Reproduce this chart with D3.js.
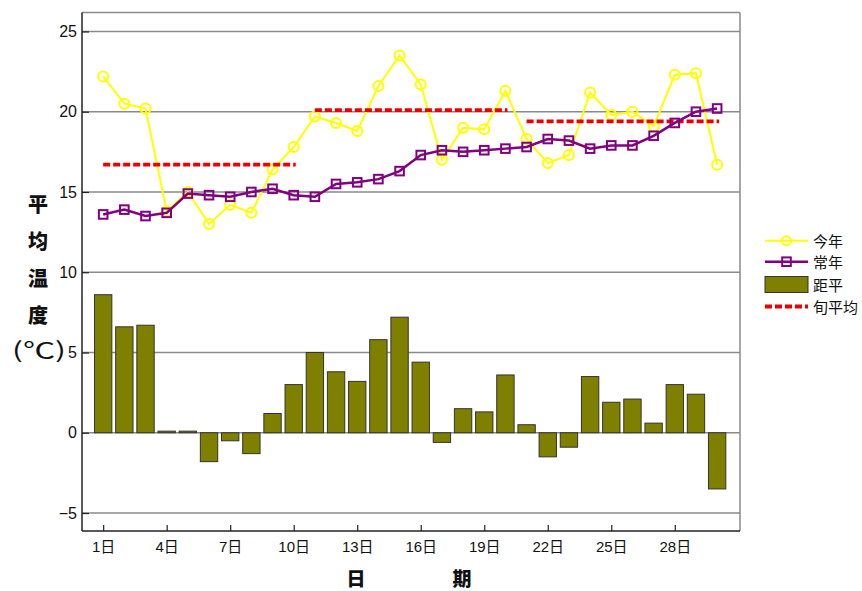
<!DOCTYPE html>
<html><head><meta charset="utf-8">
<script src="https://cdn.jsdelivr.net/npm/d3@7"></script>
<style>
html,body{margin:0;padding:0;background:#fff;overflow:hidden;}
svg{display:block;}
</style>
</head><body>
<svg id="chart" width="862" height="591"></svg>
<script>
// ---- data ----
const days = d3.range(1, 31);
const thisYear = [22.2,20.5,20.2,13.8,15.0,13.0,14.2,13.7,16.4,17.8,
                  19.7,19.3,18.8,21.6,23.5,21.7,17.0,19.0,18.9,21.3,
                  18.3,16.8,17.3,21.2,19.8,20.0,19.1,22.3,22.4,16.7];
const normal   = [13.6,13.9,13.5,13.7,14.9,14.8,14.7,15.0,15.2,14.8,
                  14.7,15.5,15.6,15.8,16.3,17.3,17.6,17.5,17.6,17.7,
                  17.8,18.3,18.2,17.7,17.9,17.9,18.5,19.3,20.0,20.2];
const anomaly  = [8.6,6.6,6.7,0.1,0.1,-1.8,-0.5,-1.3,1.2,3.0,
                  5.0,3.8,3.2,5.8,7.2,4.4,-0.6,1.5,1.3,3.6,
                  0.5,-1.5,-0.9,3.5,1.9,2.1,0.6,3.0,2.4,-3.5];
const dekadStart = [1, 11, 21];
const dekadEnd   = [10, 20, 30];
const dekadMean  = [16.7, 20.1, 19.4];
const yTicks = [-5, 0, 5, 10, 15, 20, 25];
const xTicks = [1, 4, 7, 10, 13, 16, 19, 22, 25, 28];
const seriesNames = ["今年", "常年", "距平", "旬平均"];
const yTitleChars = ["平", "均", "温", "度"];
const xTitleChars = ["日", "期"];

// ---- layout ----
const L = 82, R = 740, T = 12.5, B = 531;
const svg = d3.select("#chart");
const x = d3.scaleLinear().domain([0, 31.08]).range([L, R]);
const y = d3.scaleLinear().domain([-6.12, 26.18]).range([B, T]);
const barW = x(0.82) - x(0);
const numFont = "'Liberation Sans', Arial, 'Noto Sans CJK SC', sans-serif";
const cjkFont = "'Noto Sans CJK SC', sans-serif";

// gridlines
svg.append("g").selectAll("line").data(yTicks).join("line")
  .attr("x1", L).attr("x2", R)
  .attr("y1", d => y(d)).attr("y2", d => y(d))
  .attr("stroke", "#8a8a8a").attr("stroke-width", 1.5);

// frame top/right
svg.append("line").attr("x1", L).attr("x2", R).attr("y1", T).attr("y2", T)
  .attr("stroke", "#8a8a8a").attr("stroke-width", 1.5);
svg.append("line").attr("x1", R).attr("x2", R).attr("y1", T).attr("y2", B)
  .attr("stroke", "#8a8a8a").attr("stroke-width", 1.5);

// bars
svg.append("g").selectAll("rect").data(days).join("rect")
  .attr("x", (d) => x(d) - barW / 2)
  .attr("width", barW)
  .attr("y", (d, i) => y(Math.max(0, anomaly[i])))
  .attr("height", (d, i) => Math.abs(y(anomaly[i]) - y(0)))
  .attr("fill", "#808000").attr("stroke", "#333").attr("stroke-width", 1);

// this year line
const line = d3.line();
svg.append("path")
  .attr("d", line(days.map((d, i) => [x(d), y(thisYear[i])])))
  .attr("fill", "none").attr("stroke", "#ffff00").attr("stroke-width", 2);
svg.append("g").selectAll("circle").data(days).join("circle")
  .attr("cx", d => x(d)).attr("cy", (d, i) => y(thisYear[i])).attr("r", 5)
  .attr("fill", "none").attr("stroke", "#ffff00").attr("stroke-width", 2);

// dekad means
svg.append("g").selectAll("line").data(dekadMean).join("line")
  .attr("x1", (d, i) => x(dekadStart[i])).attr("x2", (d, i) => x(dekadEnd[i]) + 2)
  .attr("y1", d => y(d)).attr("y2", d => y(d))
  .attr("stroke", "#ee0000").attr("stroke-width", 3.8)
  .attr("stroke-dasharray", "7,3");

// normal line
svg.append("path")
  .attr("d", line(days.map((d, i) => [x(d), y(normal[i])])))
  .attr("fill", "none").attr("stroke", "#800080").attr("stroke-width", 2.5);
svg.append("g").selectAll("rect").data(days).join("rect")
  .attr("x", d => x(d) - 4.3).attr("y", (d, i) => y(normal[i]) - 4.3)
  .attr("width", 8.6).attr("height", 8.6)
  .attr("fill", "none").attr("stroke", "#800080").attr("stroke-width", 2);

// axes
const yAxis = svg.append("g").attr("transform", `translate(${L},0)`)
  .call(d3.axisLeft(y).tickValues(yTicks).tickSize(-7).tickPadding(5).tickFormat(d3.format("d")));
yAxis.select(".domain").remove();
yAxis.selectAll(".tick line").attr("stroke", "#222").attr("stroke-width", 1.2);
yAxis.selectAll("text").attr("font-family", numFont).attr("font-size", 16).attr("fill", "#111");
svg.append("line").attr("x1", L).attr("x2", L).attr("y1", T).attr("y2", B)
  .attr("stroke", "#222").attr("stroke-width", 1.5);

const xAxis = svg.append("g").attr("transform", `translate(0,${B})`)
  .call(d3.axisBottom(x).tickValues(xTicks).tickSize(-6).tickPadding(10).tickFormat(d => d + "日"));
xAxis.select(".domain").remove();
xAxis.selectAll(".tick line").attr("stroke", "#222").attr("stroke-width", 1.2);
xAxis.selectAll("text").attr("font-family", numFont).attr("font-size", 15).attr("fill", "#111");
svg.append("line").attr("x1", L).attr("x2", R).attr("y1", B).attr("y2", B)
  .attr("stroke", "#222").attr("stroke-width", 1.5);

// axis titles
svg.append("g").selectAll("text").data(yTitleChars).join("text")
  .attr("x", 38).attr("y", (d, i) => 203 + i * 37.3)
  .attr("text-anchor", "middle").attr("dominant-baseline", "central")
  .attr("font-family", cjkFont).attr("font-weight", 900).attr("font-size", 20)
  .attr("fill", "#111").text(d => d);
svg.append("text").attr("x", 39).attr("y", 348)
  .attr("text-anchor", "middle").attr("dominant-baseline", "central")
  .attr("font-family", cjkFont).attr("font-size", 22).attr("fill", "#111")
  .attr("textLength", 54).attr("lengthAdjust", "spacingAndGlyphs")
  .text("(℃)");
svg.append("g").selectAll("text").data(xTitleChars).join("text")
  .attr("x", (d, i) => [356, 462][i]).attr("y", 577)
  .attr("text-anchor", "middle").attr("dominant-baseline", "central")
  .attr("font-family", cjkFont).attr("font-weight", 900).attr("font-size", 19)
  .attr("fill", "#111").text(d => d);

// legend
const lg = svg.append("g");
const rowY = [240.7, 261.7, 284.5, 306.5];
const lx1 = 765, lx2 = 808, lmid = 786.5;
lg.append("line").attr("x1", lx1).attr("x2", lx2).attr("y1", rowY[0]).attr("y2", rowY[0])
  .attr("stroke", "#ffff00").attr("stroke-width", 2);
lg.append("circle").attr("cx", lmid).attr("cy", rowY[0]).attr("r", 4.5)
  .attr("fill", "none").attr("stroke", "#ffff00").attr("stroke-width", 2);
lg.append("line").attr("x1", lx1).attr("x2", lx2).attr("y1", rowY[1]).attr("y2", rowY[1])
  .attr("stroke", "#800080").attr("stroke-width", 2.5);
lg.append("rect").attr("x", lmid - 4.3).attr("y", rowY[1] - 4.3).attr("width", 8.6).attr("height", 8.6)
  .attr("fill", "none").attr("stroke", "#800080").attr("stroke-width", 2);
lg.append("rect").attr("x", lx1).attr("y", rowY[2] - 8).attr("width", lx2 - lx1).attr("height", 16)
  .attr("fill", "#808000").attr("stroke", "#333").attr("stroke-width", 1);
lg.append("line").attr("x1", lx1).attr("x2", lx2).attr("y1", rowY[3]).attr("y2", rowY[3])
  .attr("stroke", "#ee0000").attr("stroke-width", 3.8).attr("stroke-dasharray", "7,3");
lg.selectAll("text").data(seriesNames).join("text")
  .attr("x", 813).attr("y", (d, i) => rowY[i])
  .attr("dominant-baseline", "central")
  .attr("font-family", cjkFont).attr("font-size", 15).attr("fill", "#111")
  .text(d => d);
</script>
</body></html>
